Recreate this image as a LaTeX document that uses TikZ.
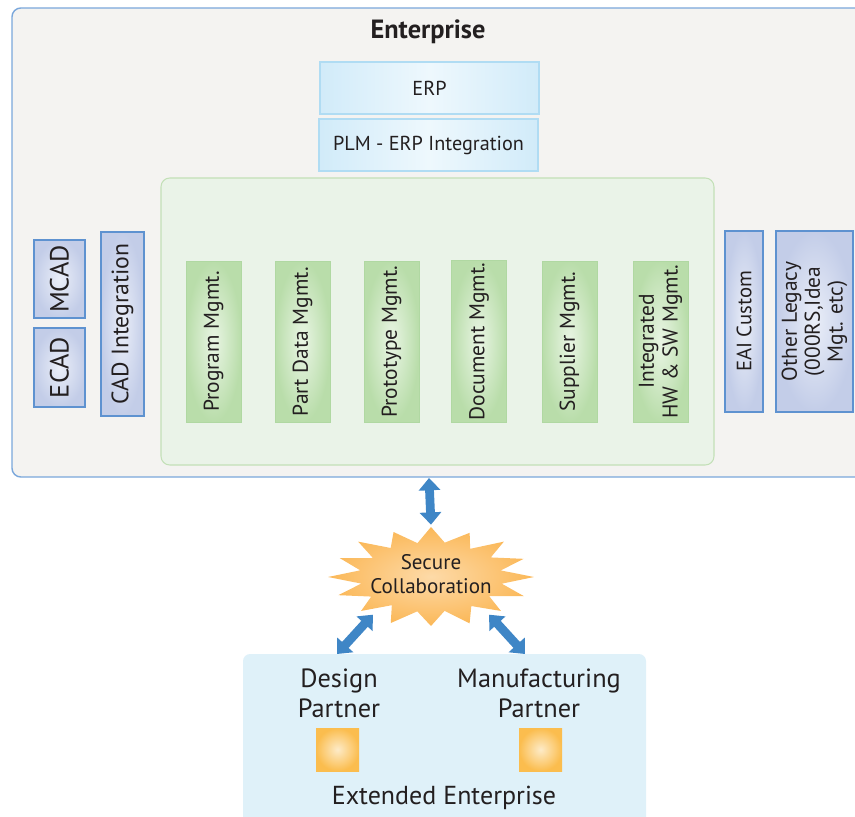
\documentclass[tikz,border=0pt]{standalone}
\usepackage{fontspec}
\setmainfont{PT Sans}
\usepackage{tikz}
\usetikzlibrary{positioning, arrows.meta, shapes.geometric}
\definecolor{plmText}{HTML}{231F20}
\definecolor{entFill}{HTML}{F4F3F1}
\definecolor{entLine}{HTML}{7AA7DB}
\definecolor{erpEdge}{HTML}{D1EBF9}
\definecolor{erpMid}{HTML}{EEF8FD}
\definecolor{erpLine}{HTML}{B0DCF3}
\definecolor{grpFill}{HTML}{EAF3E8}
\definecolor{grpLine}{HTML}{C3E0B7}
\definecolor{modEdge}{HTML}{B9DDAA}
\definecolor{modMid}{HTML}{E9F5E4}
\definecolor{modLine}{HTML}{B0D8A2}
\definecolor{cadEdge}{HTML}{C3CDE8}
\definecolor{cadMid}{HTML}{EAEEF8}
\definecolor{cadLine}{HTML}{5E92D0}
\definecolor{arrBlue}{HTML}{3F86C6}
\definecolor{starEdge}{HTML}{FBB858}
\definecolor{starMid}{HTML}{FDDAA8}
\definecolor{extFill}{HTML}{DFF1F9}
\definecolor{sqEdge}{HTML}{FBBD4E}
\definecolor{sqMid}{HTML}{FDEBC8}

\begin{document}
\begin{tikzpicture}[
  x=0.02cm, y=-0.02cm,
  every node/.style={text=plmText},
  topbox/.style={
    draw=erpLine, line width=0.6pt,
    left color=erpEdge, right color=erpEdge, middle color=erpMid,
    minimum width=4.38cm, minimum height=1.04cm,
    font=\fontsize{11.5}{13}\selectfont
  },
  module/.style={
    draw=modLine, line width=0.5pt,
    inner color=modMid, outer color=modEdge,
    rotate=90, align=center, inner sep=1pt,
    minimum width=3.22cm, minimum height=1.1cm,
    font=\fontsize{12.2}{13.5}\selectfont
  },
  sidebox/.style={
    draw=cadLine, line width=0.6pt,
    inner color=cadMid, outer color=cadEdge,
    rotate=90, align=center, inner sep=1pt,
    font=\fontsize{15}{16}\selectfont
  },
  biarrow/.style={
    draw=arrBlue, line width=5pt,
    {Triangle[width=12pt,length=7pt]}-{Triangle[width=12pt,length=7pt]}
  },
  partner/.style={
    align=center, font=\fontsize{15}{17}\selectfont
  },
  partnersq/.style={
    inner color=sqMid, outer color=sqEdge,
    minimum size=0.86cm, inner sep=0pt
  },
]
\useasboundingbox (0,0) rectangle (855,817);

% === ENTERPRISE ===
\draw[entLine, fill=entFill, line width=0.8pt, rounded corners=5pt]
  (12,8) rectangle (875,477);
\node[font=\fontsize{15}{17}\selectfont\bfseries] (enterprise) at (428,32) {Enterprise};
\coordinate (ent-bot) at (429,478);

% ERP stack
\node[topbox] (erp) at (429.5,88) {ERP};
\node[topbox] (plm-erp) at (428.5,145) {PLM - ERP Integration};

% PLM group
\draw[grpLine, fill=grpFill, line width=0.6pt, rounded corners=5pt]
  (161,178) rectangle (714,465);
\foreach \x/\id/\txt in {213.5/prog/{Program Mgmt.},
                         302.5/part/{Part Data Mgmt.},
                         391.5/proto/{Prototype Mgmt.},
                         479/doc/{Document Mgmt.},
                         569.5/supp/{Supplier Mgmt.},
                         660.5/hwsw/{Integrated\\HW \& SW Mgmt.}} {
  \node[module] (m-\id) at (\x,341.5) {\txt};
}

% CAD side
\node[sidebox, minimum width=1.56cm, minimum height=1.02cm] (mcad) at (59.5,279) {MCAD};
\node[sidebox, minimum width=1.58cm, minimum height=1.02cm] (ecad) at (59.5,367.5) {ECAD};
\node[sidebox, minimum width=3.68cm, minimum height=0.86cm,
      font=\fontsize{13.5}{15}\selectfont] (cad-int) at (122.5,324) {CAD Integration};

% Legacy side
\node[sidebox, minimum width=3.62cm, minimum height=0.76cm,
      font=\fontsize{11.8}{13}\selectfont] (eai) at (744,321.5) {EAI Custom};
\node[sidebox, minimum width=3.62cm, minimum height=1.54cm,
      font=\fontsize{12.2}{13}\selectfont] (legacy) at (814.5,321.5)
  {Other Legacy\\(000RS,Idea\\Mgt. etc)};

% === SECURE COLLABORATION ===
% star outline: tips and valleys on two ellipses round (431,577)
\shade[inner color=starMid, outer color=starEdge]
  (431,527)
  \foreach \a/\f in {101/0.69, 112/0.97, 124/0.70, 135/1, 146/0.68, 157/0.96,
                     169/0.70, 180/1, 191/0.69, 202/0.97, 214/0.70, 225/0.96,
                     236/0.68, 247/1, 259/0.70, 270/0.98, 281/0.69, 292/1,
                     304/0.70, 315/0.96, 326/0.68, 337/0.98, 349/0.70, 360/1,
                     371/0.69, 382/0.97, 394/0.70, 405/1, 416/0.68, 427/0.96,
                     439/0.70} {
    -- ({431+103*\f*cos(\a)},{577-50*\f*sin(\a)})
  } -- cycle;
\node[ellipse, minimum width=4.1cm, minimum height=1.96cm, inner sep=0pt,
      align=center, font=\fontsize{12}{13.5}\selectfont] (secure) at (431,574)
  {Secure\\Collaboration};

% === EXTENDED ENTERPRISE ===
\fill[extFill, rounded corners=4pt] (243,654) rectangle (646,840);
\coordinate (dp-top) at (337,654);
\coordinate (mp-top) at (525,654);
\node[partner] (design) at (339,693) {Design\\Partner};
\node[partner] (manuf) at (539,693) {Manufacturing\\Partner};
\node[partnersq] (d-sq) at (337.5,749.5) {};
\node[partnersq] (m-sq) at (540.5,749.5) {};
\node[font=\fontsize{14.8}{16}\selectfont] (ext) at (444,798) {Extended Enterprise};

% Links
\draw[biarrow] (ent-bot) -- (secure.north);
\draw[biarrow] (secure.215) -- (dp-top);
\draw[biarrow] (secure.325) -- (mp-top);

\end{tikzpicture}
\end{document}
